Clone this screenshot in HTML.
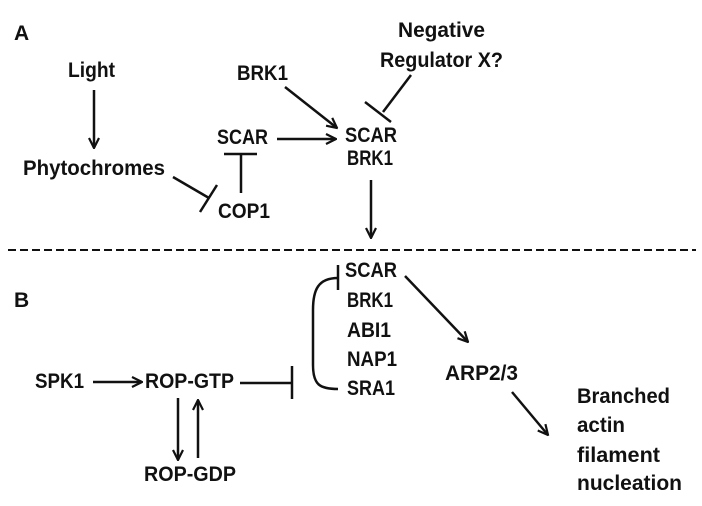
<!DOCTYPE html>
<html><head><meta charset="utf-8"><style>
html,body{margin:0;padding:0;background:#fff}
svg text{font-family:"Liberation Sans",sans-serif;font-weight:bold;font-size:21px;fill:#111}
</style></head><body>
<svg width="702" height="501" viewBox="0 0 702 501" xmlns="http://www.w3.org/2000/svg">
<defs><marker id="a" viewBox="0 0 12 12" refX="11" refY="6" markerWidth="12" markerHeight="12" markerUnits="userSpaceOnUse" orient="auto"><path d="M1,1 L11,6 L1,11" fill="none" stroke="#111" stroke-width="2.2"/></marker></defs>
<g stroke="#111" stroke-width="2.5" fill="none">
<line x1="94" y1="90" x2="94" y2="148" marker-end="url(#a)"/>
<line x1="173" y1="177" x2="209" y2="198"/>
<line x1="200" y1="212" x2="217" y2="185"/>
<line x1="241" y1="154" x2="241" y2="193"/>
<line x1="224" y1="154" x2="257" y2="154"/>
<line x1="277" y1="139" x2="336" y2="139" marker-end="url(#a)"/>
<line x1="285" y1="87" x2="337" y2="128" marker-end="url(#a)"/>
<line x1="411" y1="75" x2="383" y2="112"/>
<line x1="365" y1="102" x2="391" y2="122"/>
<line x1="371" y1="180" x2="371" y2="238" marker-end="url(#a)"/>
<line x1="8" y1="250" x2="696" y2="250" stroke-dasharray="8,4" stroke-width="2"/>
<line x1="93" y1="382" x2="142" y2="382" marker-end="url(#a)"/>
<line x1="240" y1="383" x2="292" y2="383"/>
<line x1="292" y1="366" x2="292" y2="399"/>
<line x1="178" y1="398" x2="178" y2="460" marker-end="url(#a)"/>
<line x1="198" y1="458" x2="198" y2="400" marker-end="url(#a)"/>
<line x1="338" y1="265" x2="338" y2="290"/>
<path d="M338,278 C318,278 313,290 313,310 L313,365 C313,385 320,389 338,389"/>
<line x1="405" y1="276" x2="468" y2="342" marker-end="url(#a)"/>
<line x1="512" y1="392" x2="548" y2="435" marker-end="url(#a)"/>
</g>
<text x="14" y="40" font-size="18">A</text>
<text x="14" y="307" font-size="18">B</text>
<text x="68" y="77" textLength="47" lengthAdjust="spacingAndGlyphs">Light</text>
<text x="23" y="175" textLength="142" lengthAdjust="spacingAndGlyphs">Phytochromes</text>
<text x="217" y="144" textLength="51" lengthAdjust="spacingAndGlyphs">SCAR</text>
<text x="218" y="218" textLength="52" lengthAdjust="spacingAndGlyphs">COP1</text>
<text x="237" y="80" textLength="51" lengthAdjust="spacingAndGlyphs">BRK1</text>
<text x="345" y="142" textLength="52" lengthAdjust="spacingAndGlyphs">SCAR</text>
<text x="347" y="165" textLength="46" lengthAdjust="spacingAndGlyphs">BRK1</text>
<text x="398" y="37" textLength="87" lengthAdjust="spacingAndGlyphs">Negative</text>
<text x="380" y="67" textLength="123" lengthAdjust="spacingAndGlyphs">Regulator X?</text>
<text x="345" y="277" textLength="52" lengthAdjust="spacingAndGlyphs">SCAR</text>
<text x="347" y="307" textLength="46" lengthAdjust="spacingAndGlyphs">BRK1</text>
<text x="347" y="337" textLength="44" lengthAdjust="spacingAndGlyphs">ABI1</text>
<text x="347" y="366" textLength="50" lengthAdjust="spacingAndGlyphs">NAP1</text>
<text x="347" y="395" textLength="48" lengthAdjust="spacingAndGlyphs">SRA1</text>
<text x="35" y="388" textLength="49" lengthAdjust="spacingAndGlyphs">SPK1</text>
<text x="145" y="388" textLength="89" lengthAdjust="spacingAndGlyphs">ROP-GTP</text>
<text x="144" y="481" textLength="92" lengthAdjust="spacingAndGlyphs">ROP-GDP</text>
<text x="445" y="380" textLength="73" lengthAdjust="spacingAndGlyphs">ARP2/3</text>
<text x="577" y="403" textLength="93" lengthAdjust="spacingAndGlyphs">Branched</text>
<text x="577" y="432" textLength="48" lengthAdjust="spacingAndGlyphs">actin</text>
<text x="577" y="462" textLength="83" lengthAdjust="spacingAndGlyphs">filament</text>
<text x="577" y="490" textLength="105" lengthAdjust="spacingAndGlyphs">nucleation</text>
</svg>
</body></html>
